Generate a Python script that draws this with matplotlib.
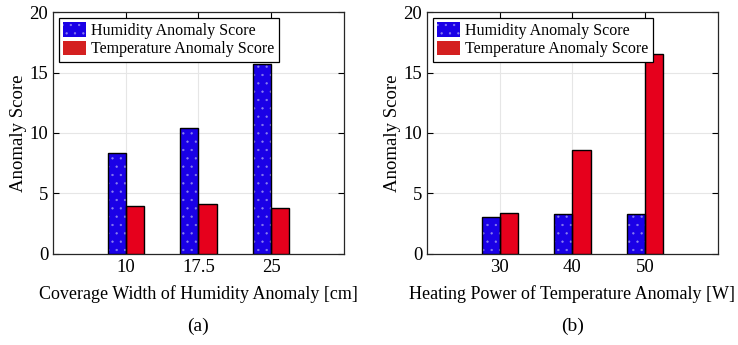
import matplotlib.pyplot as plt
import numpy as np
from matplotlib.patches import Patch

plt.rcParams["font.family"] = ["Liberation Serif", "DejaVu Serif"]
plt.rcParams["hatch.linewidth"] = 0.4

# data
width_labels = ["10", "17.5", "25"]
width_humidity = [8.33, 10.4, 15.68]
width_temperature = [4.0, 4.14, 3.84]

power_labels = ["30", "40", "50"]
power_humidity = [3.05, 3.28, 3.28]
power_temperature = [3.41, 8.57, 16.5]

BLUE = "#1a00e6"
RED = "#e6001c"
DOT = "#8a80f0"


def draw_panel(ax, labels, hum, temp, xlabel, tag):
    x = np.arange(1, len(labels) + 1)
    w = 0.25
    # humidity bars: dotted fill, then black outline on top
    ax.bar(x - w / 2, hum, w, color=BLUE, edgecolor=DOT, hatch="..",
           linewidth=0, zorder=3)
    ax.bar(x - w / 2, hum, w, fill=False, edgecolor="black",
           linewidth=1.0, zorder=4)
    ax.bar(x + w / 2, temp, w, color=RED, edgecolor="black",
           linewidth=1.0, zorder=3)

    ax.set_xlim(0, 4)
    ax.set_ylim(0, 20)
    ax.set_xticks(x)
    ax.set_xticklabels(labels)
    ax.set_yticks([0, 5, 10, 15, 20])
    ax.grid(True, color="#e6e6e6", linewidth=0.8, zorder=0)
    ax.set_axisbelow(True)
    ax.tick_params(direction="in", top=True, right=True, labelsize=13.5,
                   length=4, width=0.8)
    for s in ax.spines.values():
        s.set_linewidth(0.9)
        s.set_color("#262626")
    ax.set_ylabel("Anomaly Score", fontsize=13.5, labelpad=2)
    ax.set_xlabel(xlabel, fontsize=13, labelpad=7)

    handles = [
        Patch(facecolor=BLUE, edgecolor=DOT, hatch="..", linewidth=0),
        Patch(facecolor="#d42020", edgecolor="none"),
    ]
    leg = ax.legend(handles, ["Humidity Anomaly Score", "Temperature Anomaly Score"],
                    loc="upper left", fontsize=11.5, fancybox=False,
                    edgecolor="black", framealpha=1, borderpad=0.3,
                    handlelength=1.4, handleheight=1.0, handletextpad=0.3,
                    labelspacing=0.1, borderaxespad=0.35)
    leg.get_frame().set_linewidth(0.9)
    ax.text(0.5, -0.30, tag, transform=ax.transAxes, ha="center",
            va="center", fontsize=14)


fig = plt.figure(figsize=(7.38, 3.45), dpi=100)
ax1 = fig.add_axes([0.0718, 0.2638, 0.394, 0.7014])
ax2 = fig.add_axes([0.5786, 0.2638, 0.394, 0.7014])

draw_panel(ax1, width_labels, width_humidity, width_temperature,
           "Coverage Width of Humidity Anomaly [cm]", "(a)")
draw_panel(ax2, power_labels, power_humidity, power_temperature,
           "Heating Power of Temperature Anomaly [W]", "(b)")

fig.savefig("out.png", dpi=100)
plt.close(fig)
